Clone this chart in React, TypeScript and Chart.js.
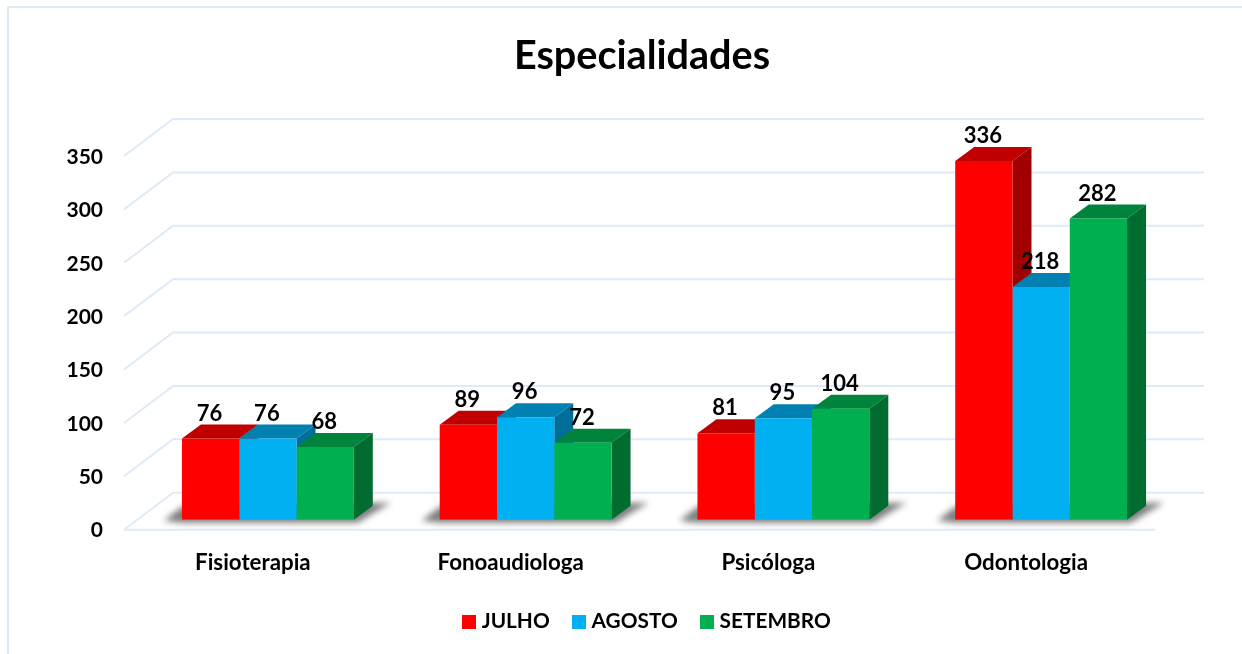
import React, { useEffect, useRef } from "react";
import { Chart, registerables } from "chart.js";

Chart.register(...registerables);

const categories = ["Fisioterapia", "Fonoaudiologa", "Psicóloga", "Odontologia"];
const seriesNames = ["JULHO", "AGOSTO", "SETEMBRO"];
const julho = [76, 89, 81, 336];
const agosto = [76, 96, 95, 218];
const setembro = [68, 72, 104, 282];
const seriesValues = [julho, agosto, setembro];
const frontColors = ["#FF0000", "#00B0F0", "#00B050"];
const topColors = ["#C00000", "#0081B2", "#00843C"];
const sideColors = ["#A00000", "#006E9A", "#006C30"];
const yTicks = [0, 50, 100, 150, 200, 250, 300, 350];

const FONT = "Lato, Carlito, Calibri, sans-serif";
const GRID = "#DEEAF7";
const DX = 19;
const DY = -14;

function poly(ctx: CanvasRenderingContext2D, pts: number[][], fill: string) {
  ctx.fillStyle = fill;
  ctx.beginPath();
  pts.forEach((p, i) => (i ? ctx.lineTo(p[0], p[1]) : ctx.moveTo(p[0], p[1])));
  ctx.closePath();
  ctx.fill();
}

function legendMarker(color: string) {
  const c = document.createElement("canvas");
  c.width = 14;
  c.height = 14;
  const g = c.getContext("2d")!;
  g.fillStyle = color;
  g.fillRect(0, 0, 14, 14);
  return c;
}

const plugin3d = {
  id: "plugin3d",
  afterLayout(chart: any) {
    chart.titleBlock.left = 0;
    chart.titleBlock.right = 1284;
    chart.legend.left = 0;
    chart.legend.right = 1298;
    chart.legend.top -= 12;
    chart.legend.bottom -= 12;
  },
  beforeDatasetsDraw(chart: any) {
    const { ctx, scales } = chart;
    const x = scales.x;
    const y = scales.y;
    ctx.save();

    // frame
    ctx.strokeStyle = GRID;
    ctx.lineWidth = 2;
    ctx.beginPath();
    ctx.moveTo(8, 654);
    ctx.lineTo(8, 7);
    ctx.lineTo(1242, 7);
    ctx.stroke();

    // walls and floor
    const fl = x.left - 15;
    const fr = x.right - 15;
    const bl = fl + 49;
    const br = fr + 49;
    yTicks.forEach((v) => {
      const p = y.getPixelForValue(v);
      ctx.beginPath();
      ctx.moveTo(fl, p + 10);
      ctx.lineTo(bl, p - 27);
      ctx.lineTo(br, p - 27);
      ctx.stroke();
    });
    const base = y.getPixelForValue(0);
    ctx.beginPath();
    ctx.moveTo(fl, base + 10);
    ctx.lineTo(fr, base + 10);
    ctx.stroke();

    // floor shadows, one per cluster
    const first = chart.getDatasetMeta(0).data;
    const last = chart.getDatasetMeta(seriesNames.length - 1).data;
    categories.forEach((_, i) => {
      const a = first[i];
      const b = last[i];
      const l = a.x - a.width / 2;
      const r = b.x + b.width / 2;
      ctx.save();
      ctx.filter = "blur(3px)";
      poly(ctx, [
        [l - 18, base + 1],
        [l, base - 13],
        [r + 37, base - 17],
        [r + 20, base - 7],
        [r + 4, base + 3],
        [l, base + 3],
      ], "rgba(70,70,70,0.7)");
      ctx.restore();
    });

    // top and side faces, left to right inside each cluster
    categories.forEach((_, i) => {
      seriesNames.forEach((__, s) => {
        const el = chart.getDatasetMeta(s).data[i];
        const l = el.x - el.width / 2;
        const r = el.x + el.width / 2;
        poly(ctx, [[l, el.y], [r, el.y], [r + DX, el.y + DY], [l + DX, el.y + DY]], topColors[s]);
        poly(ctx, [[r, el.y], [r + DX, el.y + DY], [r + DX, el.base + DY], [r, el.base]], sideColors[s]);
      });
    });
    ctx.restore();
  },
  afterDatasetsDraw(chart: any) {
    const { ctx } = chart;
    ctx.save();
    ctx.font = `bold 22px ${FONT}`;
    ctx.fillStyle = "#000";
    ctx.textAlign = "center";
    ctx.textBaseline = "middle";
    seriesNames.forEach((_, s) => {
      chart.getDatasetMeta(s).data.forEach((el: any, i: number) => {
        ctx.fillText(String(seriesValues[s][i]), el.x - 1, el.y - 25);
      });
    });
    ctx.restore();
  },
};

export default function App() {
  const ref = useRef<HTMLCanvasElement>(null);
  useEffect(() => {
    const chart = new Chart(ref.current!, {
      type: "bar",
      data: {
        labels: categories,
        datasets: seriesNames.map((name, s) => ({
          label: name,
          data: seriesValues[s],
          backgroundColor: frontColors[s],
          borderWidth: 0,
          barPercentage: 1,
          categoryPercentage: 0.6667,
        })),
      },
      options: {
        animation: false,
        responsive: false,
        layout: { padding: { left: 0, right: 72, top: 0, bottom: 0 } },
        scales: {
          x: {
            grid: { display: false, drawTicks: false },
            border: { display: false },
            afterFit: (s: any) => { s.height = 76; },
            ticks: {
              color: "#000",
              font: { family: FONT, size: 22.3, weight: "bold" },
              labelOffset: -15,
              padding: 30,
              maxRotation: 0,
            },
          },
          y: {
            min: 0,
            max: 350,
            grid: { display: false, drawTicks: false },
            border: { display: false },
            afterFit: (s: any) => { s.width = 139; },
            ticks: {
              stepSize: 50,
              color: "#000",
              font: { family: FONT, size: 21, weight: "bold" },
              labelOffset: 11,
              padding: 36,
            },
          },
        },
        plugins: {
          tooltip: { enabled: false },
          title: {
            display: true,
            text: "Especialidades",
            color: "#000",
            font: { family: FONT, size: 39.6, weight: "bold" },
            padding: { top: 32.2, bottom: 66.3 },
          },
          legend: {
            position: "bottom",
            labels: {
              color: "#000",
              font: { family: FONT, size: 20.8, weight: "bold" },
              usePointStyle: true,
              pointStyleWidth: 4,
              boxHeight: 14,
              padding: 27.5,
              generateLabels: (c: any) =>
                Chart.defaults.plugins.legend.labels.generateLabels(c).map((l: any, i: number) => ({
                  ...l,
                  pointStyle: legendMarker(frontColors[i]),
                })),
            },
          },
        },
      },
      plugins: [plugin3d],
    } as any);
    return () => chart.destroy();
  }, []);
  return (
    <div style={{ position: "absolute", left: 0, top: 0, width: 1242, height: 654, background: "#fff" }}>
      <canvas ref={ref} width={1242} height={654} style={{ display: "block" }} />
    </div>
  );
}
